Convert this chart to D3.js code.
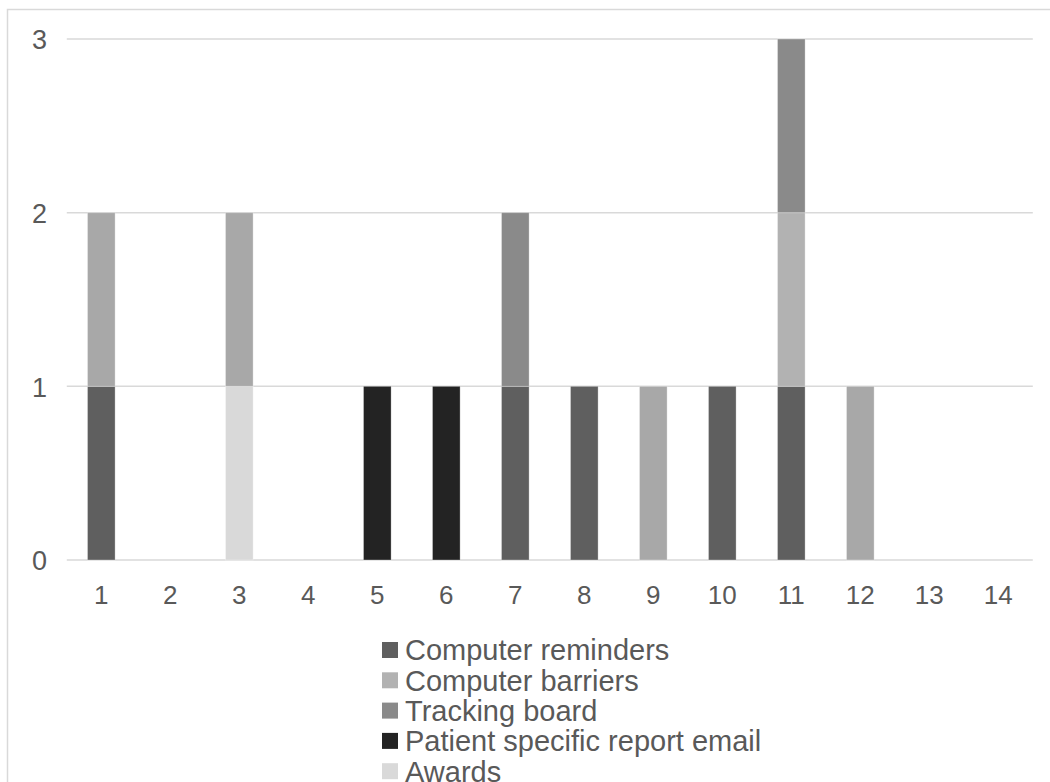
<!DOCTYPE html>
<html>
<head>
<meta charset="utf-8">
<script src="https://cdn.jsdelivr.net/npm/d3@7"></script>
<style>
  body { margin: 0; background: #fff; }
  svg { display: block; font-family: "Liberation Sans", Arial, sans-serif; }
</style>
</head>
<body>
<div id="chart"></div>
<script>
var categories = ["1","2","3","4","5","6","7","8","9","10","11","12","13","14"];
var seriesNames = ["Computer reminders", "Computer barriers", "Tracking board", "Patient specific report email", "Awards", "Other"];
var reminders = [1,0,0,0,0,0,1,1,0,1,1,0,0,0];
var barriers  = [0,0,0,0,0,0,0,0,0,0,1,0,0,0];
var tracking  = [0,0,0,0,0,0,1,0,0,0,1,0,0,0];
var patient   = [0,0,0,0,1,1,0,0,0,0,0,0,0,0];
var awards    = [0,0,1,0,0,0,0,0,0,0,0,0,0,0];
var other     = [1,0,1,0,0,0,0,0,1,0,0,1,0,0];
var yTicks = [0,1,2,3];
var colors = ["#5f5f5f", "#b2b2b2", "#8a8a8a", "#232323", "#d9d9d9", "#a8a8a8"];

function init(){
    var w = 1050, h = 782;
    var left = 66.8, right = 1032.8, top = 39, bottom = 560;
    var allSeries = [reminders, barriers, tracking, patient, awards, other];

    var rows = categories.map(function(c, i){
        var r = {cat: c};
        seriesNames.forEach(function(s, j){ r[s] = allSeries[j][i]; });
        return r;
    });

    var stack = d3.stack().keys(seriesNames)(rows);

    var xScale = d3.scaleBand()
      .domain(categories)
      .range([left, right])
      .paddingInner(0.6)
      .paddingOuter(0.3);

    var yScale = d3.scaleLinear()
      .domain([0, 3])
      .range([bottom, top]);

    var svg = d3.select("#chart")
      .append("svg")
      .attr("width", w)
      .attr("height", h);

    // outer chart frame (cut off at right and bottom)
    svg.append("rect")
      .attr("x", 7.5).attr("y", 9.5)
      .attr("width", 1100).attr("height", 900)
      .attr("fill", "none")
      .attr("stroke", "#d9d9d9")
      .attr("stroke-width", 1.5);

    // gridlines
    svg.append("g")
      .selectAll("line")
      .data(yTicks)
      .enter()
      .append("line")
      .attr("x1", left).attr("x2", right)
      .attr("y1", function(d){ return yScale(d); })
      .attr("y2", function(d){ return yScale(d); })
      .attr("stroke", "#d9d9d9")
      .attr("stroke-width", 1.5);

    // bars
    svg.append("g")
      .selectAll("g")
      .data(stack)
      .enter()
      .append("g")
      .attr("fill", function(d, i){ return colors[i]; })
      .selectAll("rect")
      .data(function(d){ return d.filter(function(p){ return p[1] > p[0]; }); })
      .enter()
      .append("rect")
      .attr("x", function(d){ return xScale(d.data.cat); })
      .attr("y", function(d){ return yScale(d[1]); })
      .attr("width", xScale.bandwidth())
      .attr("height", function(d){ return yScale(d[0]) - yScale(d[1]); })
      .attr("stroke", "#ffffff")
      .attr("stroke-opacity", 0.3)
      .attr("stroke-width", 1);

    // y axis labels
    var yAxis = d3.axisLeft(yScale).tickValues(yTicks).tickSize(0).tickPadding(0).tickFormat(d3.format("d"));
    var gy = svg.append("g").attr("transform", "translate(47,0)").call(yAxis);
    gy.select(".domain").remove();
    gy.selectAll("text").attr("font-size", 27).attr("fill", "#595959").attr("dy", "0.36em");

    // x axis labels
    var xAxis = d3.axisBottom(xScale).tickSize(0).tickPadding(0);
    var gx = svg.append("g").attr("transform", "translate(0,585)").call(xAxis);
    gx.select(".domain").remove();
    gx.selectAll("text").attr("font-size", 26).attr("fill", "#595959").attr("dy", "0.72em");

    // legend (last rows run past the bottom edge, as in the original)
    var legend = svg.append("g")
      .selectAll("g")
      .data(seriesNames)
      .enter()
      .append("g")
      .attr("transform", function(d, i){ return "translate(382," + (650 + i * 30.3) + ")"; });

    legend.append("rect")
      .attr("x", 0).attr("y", -8)
      .attr("width", 16).attr("height", 16)
      .attr("fill", function(d, i){ return colors[i]; });

    legend.append("text")
      .attr("x", 23).attr("y", 0)
      .attr("dy", "0.36em")
      .attr("font-size", 29)
      .attr("fill", "#595959")
      .text(function(d){ return d; });
}

window.onload = init;
</script>
</body>
</html>
